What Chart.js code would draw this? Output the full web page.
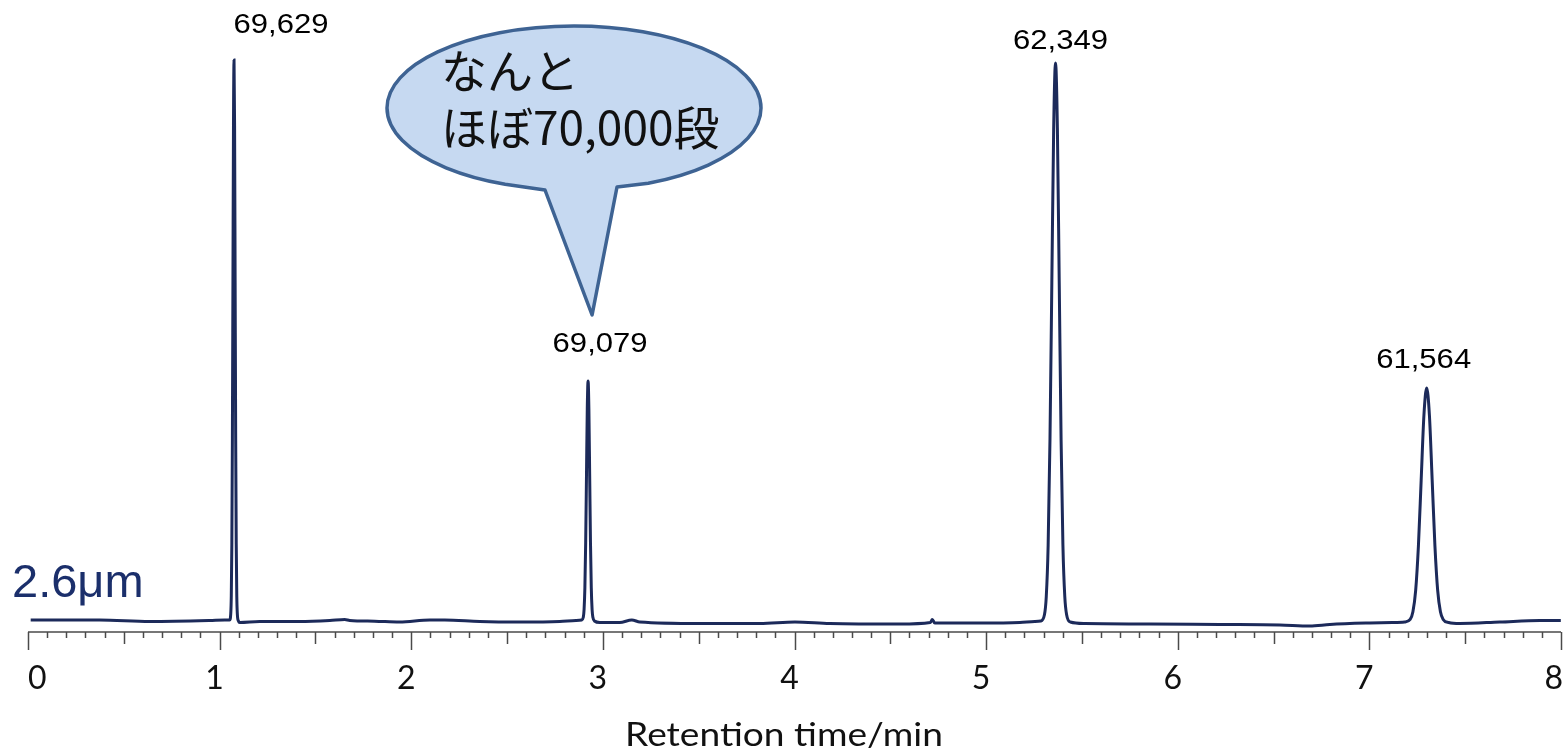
<!DOCTYPE html>
<html>
<head>
<meta charset="utf-8">
<script src="https://cdn.jsdelivr.net/npm/chart.js@4"></script>
<style>
  body { margin: 0; background: #fff; }
  #wrap { width: 1567px; height: 751px; position: relative; }
</style>
</head>
<body>
<div id="wrap"><canvas id="chrom-canvas"></canvas></div>
<script>
// retention time (min) and detector signal
const retentionTime = [
  0.014, 0.374, 0.635, 0.948, 1.027,
  1.0522, 1.0580, 1.0609, 1.0638, 1.0666, 1.0695, 1.0723, 1.0752, 1.0781, 1.0809, 1.0838, 1.0867, 1.0895, 1.0924, 1.0982,
  1.105, 1.209, 1.418, 1.575, 1.653, 1.679, 1.809, 1.939, 2.097, 2.175, 2.357, 2.566, 2.775, 2.860,
  2.8894, 2.8978, 2.9019, 2.9061, 2.9103, 2.9145, 2.9186, 2.9228, 2.9270, 2.9311, 2.9353, 2.9395, 2.9437, 2.9479, 2.9562,
  2.984, 3.088, 3.151, 3.193, 3.506, 3.819, 4.002, 4.184, 4.550, 4.709, 4.719, 4.732, 4.967, 5.176, 5.254,
  5.2850, 5.3043, 5.3139, 5.3236, 5.3332, 5.3429, 5.3525, 5.3622, 5.3719, 5.3815, 5.3912, 5.4008, 5.4105, 5.4201, 5.4394,
  5.515, 5.854, 6.220, 6.533, 6.689, 6.794, 7.003, 7.120,
  7.1842, 7.2129, 7.2272, 7.2416, 7.2559, 7.2703, 7.2846, 7.2990, 7.3134, 7.3277, 7.3421, 7.3564, 7.3708, 7.3851, 7.4138,
  7.472, 7.681, 7.890, 7.999
];
const signal = [
  12, 12, 10.5, 11.5, 12,
  12, 18.2, 36.6, 87.8, 193.8, 351.6, 506.2, 572, 506.2, 351.6, 193.8, 87.8, 36.6, 18.2, 11,
  9.5, 10.5, 10.5, 11.5, 12.5, 11.5, 10.8, 10, 12, 12, 10.5, 10, 10.5, 11.5,
  12, 14.7, 22.5, 44.3, 89.6, 157, 222.9, 251, 222.9, 157, 89.6, 44.3, 22.5, 14.7, 11,
  9.5, 9.5, 12, 10, 8.5, 8.5, 10, 8.5, 8, 9.5, 12.5, 9, 9, 9.5, 10.5,
  11, 17.2, 35.5, 86.5, 192.2, 349.4, 503.4, 569, 503.4, 349.4, 192.2, 86.5, 35.5, 17.2, 10,
  8.5, 8, 7.5, 7, 6, 7.5, 9, 9.5,
  10, 12.6, 20.3, 41.7, 86, 151.9, 216.5, 244, 216.5, 151.9, 86, 41.7, 20.3, 12.6, 9.5,
  8.5, 10, 11.5, 11.5
];

// peaks and their theoretical plate numbers
const peakTimes = [1.0752, 2.9228, 5.3622, 7.2990];
const peakHeights = [572, 251, 569, 244];
const plateLabels = ["69,629", "69,079", "62,349", "61,564"];

const tickLabels = ["0", "1", "2", "3", "4", "5", "6", "7", "8"];
const xTitle = "Retention time/min";
const particleLabel = "2.6μm";
const bubbleLines = ["なんと", "ほぼ70,000段"];

// label offsets from each peak apex (px)
const labelOffsets = [[47, -34], [12, -36], [5, -21], [-3, -27]];

const canvas = document.querySelector("#chrom-canvas");

const axisPlugin = {
  id: "chromAxis",
  afterDraw(chart) {
    const ctx = chart.ctx;
    const xs = chart.scales.x;
    const ys = chart.scales.y;
    const axisY = chart.chartArea.bottom;
    ctx.save();

    // axis line + ticks
    ctx.strokeStyle = "#4a4a4a";
    ctx.lineWidth = 1.5;
    ctx.beginPath();
    ctx.moveTo(xs.getPixelForValue(0), axisY);
    ctx.lineTo(xs.getPixelForValue(8), axisY);
    ctx.stroke();
    for (let i = 0; i <= 80; i++) {
      const px = Math.round(xs.getPixelForValue(i / 10)) + 0.5;
      let len = 6;
      if (i % 10 === 0) len = 18;
      else if (i % 5 === 0) len = 12;
      ctx.beginPath();
      ctx.moveTo(px, axisY);
      ctx.lineTo(px, axisY + len);
      ctx.stroke();
    }

    // tick labels
    ctx.fillStyle = "#111";
    ctx.font = "32px Lato";
    ctx.textBaseline = "middle";
    tickLabels.forEach((lab, i) => {
      const px = xs.getPixelForValue(i);
      if (i === 0) {
        ctx.textAlign = "left";
        ctx.fillText(lab, px, axisY + 47);
      } else if (i === tickLabels.length - 1) {
        ctx.textAlign = "right";
        ctx.fillText(lab, px + 2, axisY + 47);
      } else {
        ctx.textAlign = "center";
        ctx.fillText(lab, px - 5, axisY + 47);
      }
    });
    ctx.textAlign = "center";
    ctx.save();
    ctx.translate(784, axisY + 104);
    ctx.scale(1.16, 1);
    ctx.fillText(xTitle, 0, 0);
    ctx.restore();

    // plate numbers over the peaks
    ctx.font = "27px 'Liberation Sans'";
    ctx.fillStyle = "#000";
    peakTimes.forEach((t, i) => {
      const px = xs.getPixelForValue(t) + labelOffsets[i][0];
      const py = ys.getPixelForValue(peakHeights[i]) + labelOffsets[i][1];
      ctx.save();
      ctx.translate(px, py);
      ctx.scale(1.15, 1);
      ctx.fillText(plateLabels[i], 0, 0);
      ctx.restore();
    });

    // column particle size
    ctx.font = "47px 'Liberation Sans'";
    ctx.fillStyle = "#1b2f6b";
    ctx.textAlign = "left";
    ctx.textBaseline = "alphabetic";
    ctx.fillText(particleLabel, 12, 597);

    // speech bubble pointing at the second peak
    const tipX = xs.getPixelForValue(peakTimes[1]) + 4;
    const tipY = 315;
    ctx.beginPath();
    ctx.ellipse(574, 108, 187, 82, 0, Math.PI * 0.62, Math.PI * 0.37 + Math.PI * 2, false);
    ctx.lineTo(617, 187);
    ctx.lineTo(tipX, tipY);
    ctx.lineTo(545, 190);
    ctx.closePath();
    ctx.fillStyle = "#c6d9f1";
    ctx.fill();
    ctx.strokeStyle = "#3e6393";
    ctx.lineWidth = 3.5;
    ctx.lineJoin = "round";
    ctx.stroke();

    ctx.fillStyle = "#111";
    ctx.font = "46px 'Noto Sans CJK JP'";
    ctx.textBaseline = "middle";
    ctx.fillText(bubbleLines[0], 441, 71);
    ctx.fillText(bubbleLines[1], 441, 128);

    ctx.restore();
  }
};

const points = retentionTime.map((t, i) => ({ x: t, y: signal[i] }));

new Chart(canvas, {
  type: "line",
  data: {
    datasets: [
      {
        label: "signal",
        data: points,
        borderColor: "#1c2a5a",
        borderWidth: 3,
        pointRadius: 0,
        fill: false,
        cubicInterpolationMode: "monotone",
      },
    ],
  },
  options: {
    responsive: true,
    maintainAspectRatio: false,
    animation: false,
    layout: { padding: { left: 28, right: 6, top: 32, bottom: 119 } },
    plugins: { legend: { display: false }, tooltip: { enabled: false } },
    scales: {
      x: { type: "linear", min: 0, max: 8, display: false },
      y: { min: 0, max: 600, display: false },
    },
  },
  plugins: [axisPlugin],
});
</script>
</body>
</html>
